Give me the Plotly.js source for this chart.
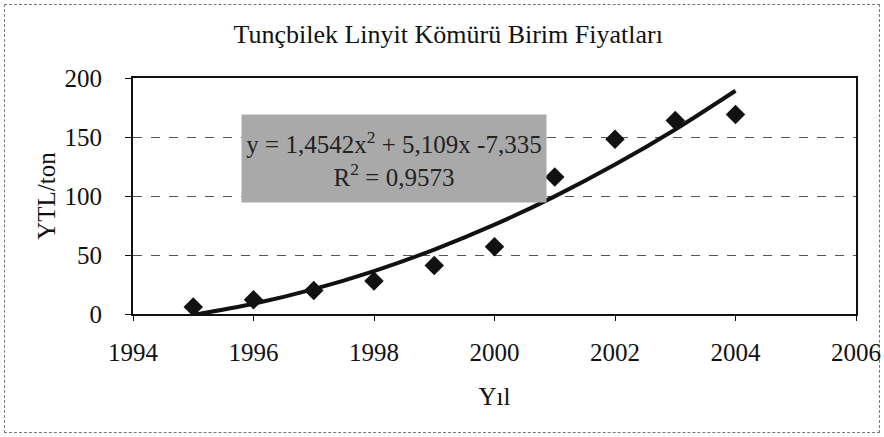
<!DOCTYPE html>
<html>
<head>
<meta charset="utf-8">
<script src="https://cdn.plot.ly/plotly-3.0.1.min.js"></script>
<style>
html,body{margin:0;padding:0;background:#fff;}
#frame{position:absolute;left:4px;top:4px;width:874px;height:427px;border:1px dashed #777;}
#chart{position:absolute;left:0;top:0;width:884px;height:437px;}
</style>
</head>
<body>
<div id="frame"></div>
<div id="chart"></div>
<script>
// Data
const years = [1995, 1996, 1997, 1998, 1999, 2000, 2001, 2002, 2003, 2004];
const prices = [6, 12, 20, 28, 41, 57, 116, 148, 164, 169];
// Polynomial trend line values (as drawn), per year
const trendYears = [1995, 1996, 1997, 1998, 1999, 2000, 2001, 2002, 2003, 2004];
const trendValues = [-0.8, 8.7, 21.1, 36.4, 54.6, 75.7, 99.7, 126.6, 156.4, 189.2];
const xTicks = [1994, 1996, 1998, 2000, 2002, 2004, 2006];
const yTicks = [0, 50, 100, 150, 200];
const titleText = 'Tunçbilek Linyit Kömürü Birim Fiyatları';
const eqText = 'y = 1,4542x<sup>2</sup> + 5,109x -7,335<br>R<sup>2</sup> = 0,9573';

const serif = '"Liberation Serif", "Times New Roman", Times, serif';
const fs = 25;

const traces = [
  {
    x: trendYears, y: trendValues, type: 'scatter', mode: 'lines',
    line: {color: '#111', width: 4, shape: 'spline', smoothing: 0.8},
    hoverinfo: 'skip', showlegend: false
  },
  {
    x: years, y: prices, type: 'scatter', mode: 'markers',
    marker: {symbol: 'diamond', size: 15, color: '#111'},
    showlegend: false
  }
];

const layout = {
  width: 884, height: 437,
  font: {family: serif, size: fs, color: '#111'},
  paper_bgcolor: 'rgba(0,0,0,0)',
  plot_bgcolor: 'rgba(0,0,0,0)',
  margin: {l: 133, r: 28, t: 78, b: 123},
  title: {text: titleText, font: {family: serif, size: 26, color: '#111'}, x: 0.507, xanchor: 'center', y: 0.922, yanchor: 'middle'},
  xaxis: {
    range: [1994, 2006], tickvals: xTicks, ticktext: xTicks.map(String),
    showgrid: false, zeroline: false,
    showline: true, linecolor: '#111', linewidth: 2, mirror: true,
    ticks: 'outside', ticklen: 5, tickcolor: '#111', tickwidth: 1,
    ticklabelstandoff: 10,
    tickfont: {family: serif, size: fs, color: '#111'},
    title: {text: 'Yıl', font: {family: serif, size: fs, color: '#111'}, standoff: 22}
  },
  yaxis: {
    range: [0, 200], tickvals: yTicks, ticktext: yTicks.map(String),
    showgrid: true, gridcolor: '#555', gridwidth: 1, griddash: 'dash', zeroline: false,
    showline: true, linecolor: '#111', linewidth: 2, mirror: true,
    ticks: 'outside', ticklen: 6, tickcolor: '#111', tickwidth: 1,
    ticklabelstandoff: 18,
    tickfont: {family: serif, size: fs, color: '#111'},
    title: {text: 'YTL/ton', font: {family: serif, size: fs, color: '#111'}, standoff: 2}
  },
  annotations: [{
    x: 1998.33, y: 132, xref: 'x', yref: 'y',
    text: eqText, showarrow: false, xanchor: 'center', yanchor: 'middle',
    width: 304, height: 87, align: 'center',
    bgcolor: '#a9a9a9', borderpad: 0,
    font: {family: serif, size: fs, color: '#222'}
  }]
};

Plotly.newPlot('chart', traces, layout, {displayModeBar: false, staticPlot: true});
</script>
</body>
</html>
